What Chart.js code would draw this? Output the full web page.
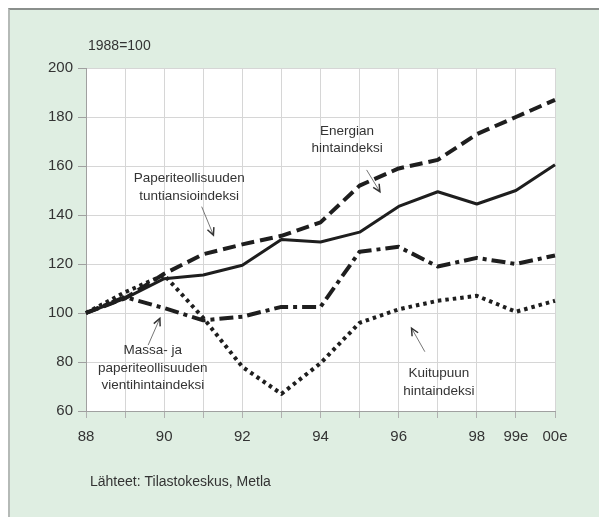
<!DOCTYPE html>
<html>
<head>
<meta charset="utf-8">
<script src="https://cdn.jsdelivr.net/npm/chart.js@4/dist/chart.umd.min.js"></script>
<style>
  html, body { margin: 0; padding: 0; background: #fff; }
  #wrap { position: relative; width: 599px; height: 517px; overflow: hidden; }
  #panel {
    position: absolute; left: 8px; top: 8px; right: 0; bottom: 0;
    background: #dfeee2;
    border-top: 2px solid #8a8f8c;
    border-left: 2px solid #b5bab7;
  }
  #chart { position: absolute; left: 0; top: 0; }
</style>
</head>
<body>
<div id="wrap">
  <div id="panel"></div>
  <canvas id="chart" width="599" height="517"></canvas>
</div>
<script>
// years on the x axis and the labels shown under them
var years = ['1988', '1989', '1990', '1991', '1992', '1993', '1994', '1995', '1996', '1997', '1998', '1999', '2000'];
var yearLabels = ['88', '', '90', '', '92', '', '94', '', '96', '', '98', '99e', '00e'];

// index values, 1988 = 100
var solidSeries = [100, 106, 114, 115.5, 119.5, 130, 129, 133, 143.5, 149.5, 144.5, 150, 160.5];
var dashedSeries = [100, 106, 116, 124, 128, 131.5, 137, 152, 159, 162.5, 173, 180, 187];
var vientiSeries = [100, 106.5, 102, 97, 98.5, 102.5, 102.5, 125, 127, 119, 122.5, 120, 123.5];
var kuitupuuSeries = [100, 108.5, 115.5, 98, 78, 67, 79.5, 96, 101.5, 105, 107, 100.5, 105];

var yMin = 60, yMax = 200, yStep = 20;

// annotation texts, anchored in data units (x = year index, y = index value)
var notes = [
  { lines: ['Energian', 'hintaindeksi'], x: 6.68, y: [174, 167.1], from: [7.18, 158.4], to: [7.52, 149.5] },
  { lines: ['Paperiteollisuuden', 'tuntiansioindeksi'], x: 2.64, y: [155, 147.5], from: [2.96, 143.4], to: [3.26, 131.8] },
  { lines: ['Massa- ja', 'paperiteollisuuden', 'vientihintaindeksi'], x: 1.71, y: [84.9, 77.6, 70.4], from: [1.59, 86.9], to: [1.89, 97.8] },
  { lines: ['Kuitupuun', 'hintaindeksi'], x: 9.03, y: [75.4, 68.2], from: [8.67, 84.2], to: [8.33, 93.8] }
];

var lineColor = '#1e1e1e';
var textColor = '#333';

var plotBackground = {
  id: 'plotBackground',
  beforeDraw: function(chart) {
    var a = chart.chartArea, ctx = chart.ctx;
    ctx.save();
    ctx.fillStyle = '#ffffff';
    ctx.fillRect(a.left, a.top, a.right - a.left, a.bottom - a.top);
    ctx.restore();
  }
};

var annotations = {
  id: 'annotations',
  afterDraw: function(chart) {
    var ctx = chart.ctx, xs = chart.scales.x, ys = chart.scales.y, a = chart.chartArea;
    ctx.save();
    ctx.fillStyle = textColor;
    ctx.font = '14px "Liberation Sans", Arial, sans-serif';
    ctx.textBaseline = 'middle';
    ctx.textAlign = 'left';
    ctx.fillText('1988=100', a.left + 2, a.top - 22);
    ctx.fillText('Lähteet: Tilastokeskus, Metla', a.left + 4, 482);

    ctx.font = '13.5px "Liberation Sans", Arial, sans-serif';
    ctx.textAlign = 'center';
    notes.forEach(function(n) {
      var px = xs.getPixelForValue(n.x);
      n.lines.forEach(function(t, i) {
        ctx.fillText(t, px, ys.getPixelForValue(n.y[i]));
      });
      // arrow
      var x1 = xs.getPixelForValue(n.from[0]), y1 = ys.getPixelForValue(n.from[1]);
      var x2 = xs.getPixelForValue(n.to[0]), y2 = ys.getPixelForValue(n.to[1]);
      var ang = Math.atan2(y2 - y1, x2 - x1);
      ctx.strokeStyle = '#777';
      ctx.lineWidth = 1;
      ctx.beginPath();
      ctx.moveTo(x1, y1);
      ctx.lineTo(x2, y2);
      ctx.stroke();
      ctx.strokeStyle = '#333';
      ctx.lineWidth = 1.5;
      ctx.beginPath();
      ctx.moveTo(x2 - 8 * Math.cos(ang - 0.45), y2 - 8 * Math.sin(ang - 0.45));
      ctx.lineTo(x2, y2);
      ctx.lineTo(x2 - 8 * Math.cos(ang + 0.45), y2 - 8 * Math.sin(ang + 0.45));
      ctx.stroke();
    });
    ctx.restore();
  }
};

function lineSet(label, data, width, dash) {
  return {
    label: label,
    data: data,
    borderColor: lineColor,
    borderWidth: width,
    borderDash: dash,
    borderCapStyle: 'butt',
    borderJoinStyle: 'round',
    pointRadius: 0,
    tension: 0,
    fill: false
  };
}

new Chart(document.getElementById('chart'), {
  type: 'line',
  data: {
    labels: years,
    datasets: [
      lineSet('Energian hintaindeksi', solidSeries, 3, []),
      lineSet('Paperiteollisuuden tuntiansioindeksi', dashedSeries, 4, [13, 6]),
      lineSet('Massa- ja paperiteollisuuden vientihintaindeksi', vientiSeries, 4, [14, 5, 4, 5]),
      lineSet('Kuitupuun hintaindeksi', kuitupuuSeries, 4, [3.5, 4])
    ]
  },
  options: {
    responsive: false,
    animation: false,
    layout: { padding: { top: 68, right: 44, left: 0, bottom: 0 } },
    plugins: {
      legend: { display: false },
      tooltip: { enabled: false },
      title: { display: false }
    },
    scales: {
      x: {
        type: 'category',
        afterFit: function(scale) { scale.height = 106; },
        grid: { color: '#d6d6d6', lineWidth: 1, tickLength: 7, tickColor: '#b0b0b0' },
        border: { color: '#a0a0a0' },
        ticks: {
          autoSkip: false,
          maxRotation: 0,
          padding: 10,
          color: textColor,
          font: { family: '"Liberation Sans", Arial, sans-serif', size: 15 },
          callback: function(val, i) { return yearLabels[i]; }
        }
      },
      y: {
        min: yMin,
        max: yMax,
        afterFit: function(scale) { scale.width = 86; },
        grid: { color: '#d6d6d6', lineWidth: 1, tickLength: 8, tickColor: '#a0a0a0' },
        border: { color: '#a0a0a0' },
        ticks: {
          stepSize: yStep,
          padding: 5,
          color: textColor,
          font: { family: '"Liberation Sans", Arial, sans-serif', size: 15 }
        }
      }
    }
  },
  plugins: [plotBackground, annotations]
});
</script>
</body>
</html>
